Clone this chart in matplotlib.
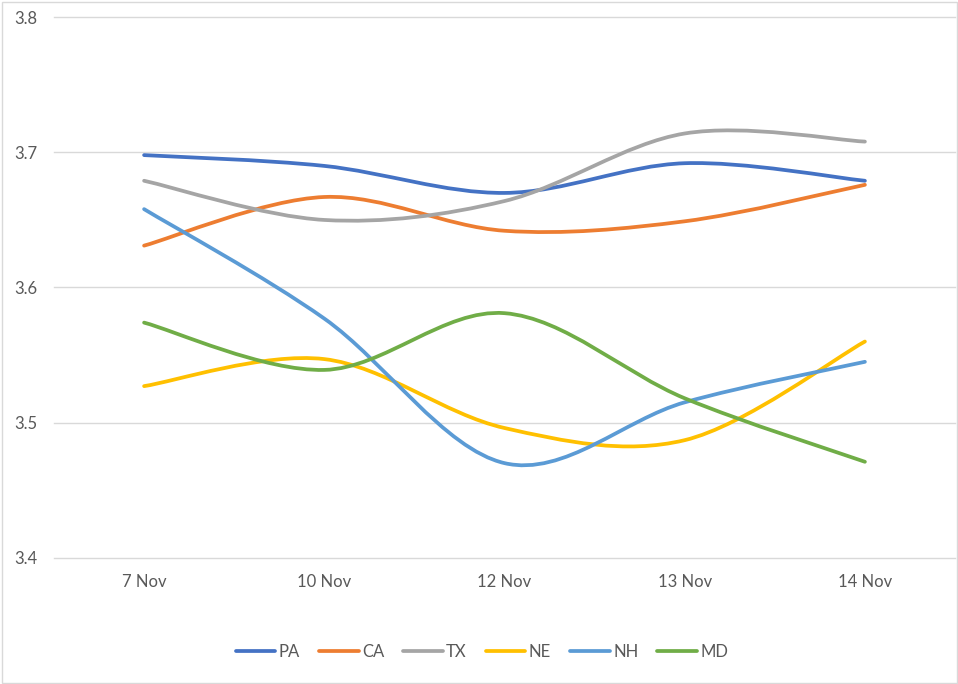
import matplotlib
matplotlib.use("Agg")
import matplotlib.pyplot as plt
from matplotlib.path import Path
from matplotlib.patches import PathPatch, Rectangle
from matplotlib.lines import Line2D

categories = ["7 Nov", "10 Nov", "12 Nov", "13 Nov", "14 Nov"]
series_names = ["PA", "CA", "TX", "NE", "NH", "MD"]
PA = [3.698, 3.690, 3.670, 3.692, 3.679]
CA = [3.631, 3.667, 3.642, 3.649, 3.676]
TX = [3.679, 3.650, 3.664, 3.714, 3.708]
NE = [3.527, 3.547, 3.496, 3.487, 3.560]
NH = [3.658, 3.577, 3.470, 3.515, 3.545]
MD = [3.574, 3.539, 3.581, 3.518, 3.471]
y_ticks = [3.4, 3.5, 3.6, 3.7, 3.8]

series_values = [PA, CA, TX, NE, NH, MD]
colors = ["#4472C4", "#ED7D31", "#A5A5A5", "#FFC000", "#5B9BD5", "#70AD47"]

plt.rcParams['font.family'] = ['Lato', 'DejaVu Sans']
TXT = "#595959"
GRID = "#D9D9D9"
LW = 2.7
FS = 12

fig = plt.figure(figsize=(9.58, 6.84), dpi=100)
ax = fig.add_axes([54 / 958, 1 - 557.7 / 684, (955 - 54) / 958, (557.7 - 17.3) / 684])


def smooth_path(xs, ys):
    # Excel-like smoothed line: cubic Bezier segments with Catmull-Rom control points
    n = len(xs)
    verts = [(xs[0], ys[0])]
    codes = [Path.MOVETO]
    for i in range(n - 1):
        x0, y0 = xs[max(i - 1, 0)], ys[max(i - 1, 0)]
        x1, y1 = xs[i], ys[i]
        x2, y2 = xs[i + 1], ys[i + 1]
        x3, y3 = xs[min(i + 2, n - 1)], ys[min(i + 2, n - 1)]
        c1 = (x1 + (x2 - x0) / 6.0, y1 + (y2 - y0) / 6.0)
        c2 = (x2 - (x3 - x1) / 6.0, y2 - (y3 - y1) / 6.0)
        verts += [c1, c2, (x2, y2)]
        codes += [Path.CURVE4] * 3
    return Path(verts, codes)


xs = list(range(len(categories)))
handles = []
for name, vals, col in zip(series_names, series_values, colors):
    p = PathPatch(smooth_path(xs, vals), fill=False, edgecolor=col, lw=LW,
                  capstyle='round', joinstyle='round', zorder=3)
    ax.add_patch(p)
    handles.append(Line2D([0], [0], color=col, lw=LW, solid_capstyle='round', label=name))

ax.set_xlim(-0.5, len(categories) - 0.5)
ax.set_ylim(y_ticks[0], y_ticks[-1])
ax.set_xticks(xs)
ax.set_xticklabels(categories)
ax.set_yticks(y_ticks)
ax.set_yticklabels([f"{v:.1f}" for v in y_ticks])
for s in ax.spines.values():
    s.set_visible(False)
ax.tick_params(axis='both', length=0, labelsize=FS, labelcolor=TXT)
ax.tick_params(axis='y', pad=12)
ax.tick_params(axis='x', pad=11.5)
ax.yaxis.grid(True, color=GRID, lw=1.0)
ax.set_axisbelow(True)
for gl in ax.get_ygridlines():
    gl.set_clip_on(False)

leg = fig.legend(handles=handles, loc='center', bbox_to_anchor=(482 / 958, 1 - 652 / 684),
                 ncol=6, frameon=False, fontsize=FS, handlelength=2.37,
                 handletextpad=0.2, columnspacing=1.15, labelcolor=TXT)

fig.patches.append(Rectangle((1.5 / 958, 1.5 / 684), 955 / 958, 681 / 684, transform=fig.transFigure,
                             fill=False, edgecolor=GRID, lw=1.0))

fig.savefig("out.png", dpi=100, facecolor="white")
